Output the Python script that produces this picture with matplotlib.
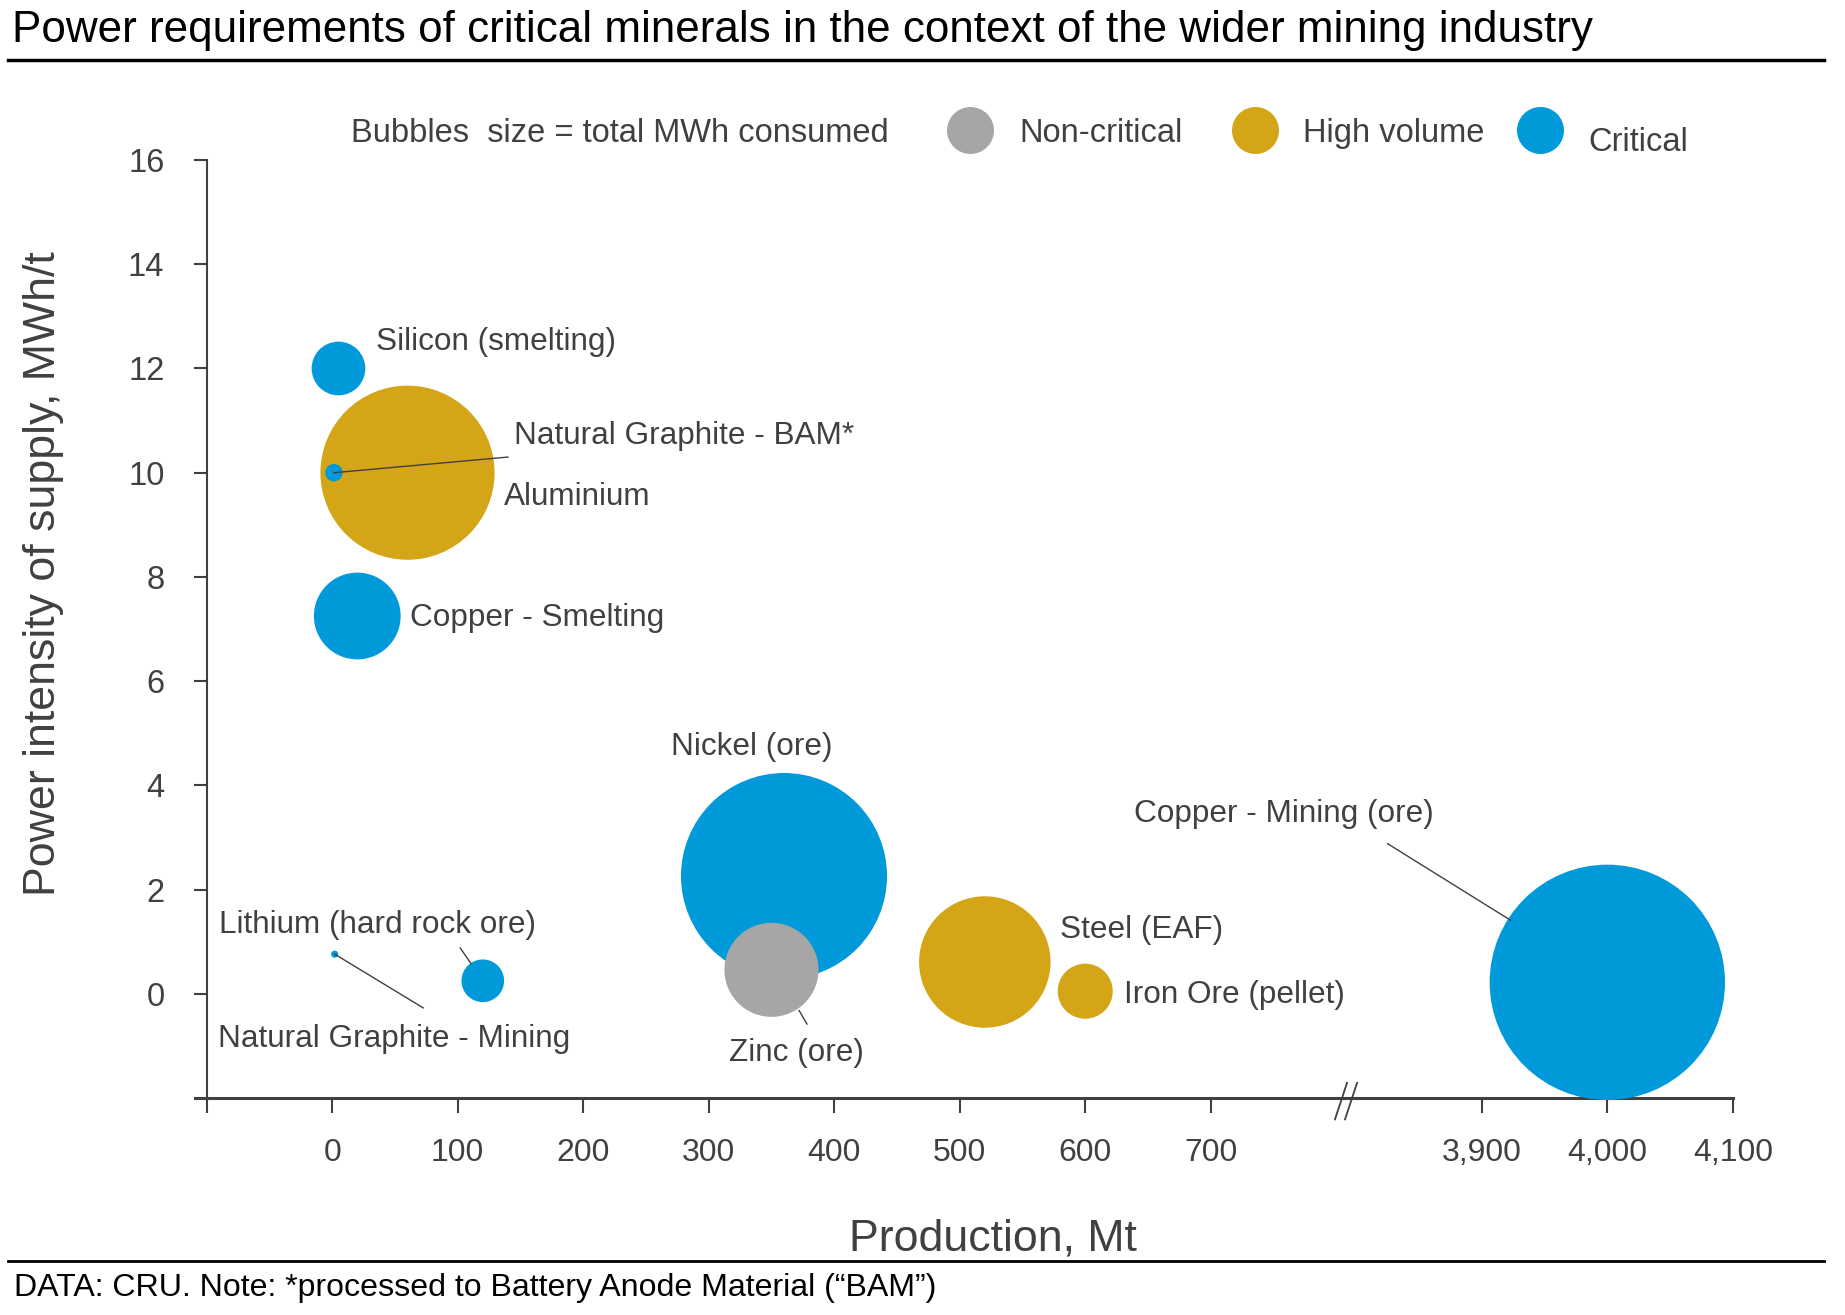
import numpy as np
import matplotlib.pyplot as plt
from matplotlib.lines import Line2D

plt.rcParams['font.family'] = ['Liberation Sans', 'DejaVu Sans']

# data (production in Mt, intensity in MWh/t, bubble = total TWh)
minerals = ['Silicon (smelting)', 'Aluminium', 'Natural Graphite - BAM*', 'Copper - Smelting',
            'Lithium (hard rock ore)', 'Natural Graphite - Mining', 'Nickel (ore)', 'Zinc (ore)',
            'Steel (EAF)', 'Iron Ore (pellet)', 'Copper - Mining (ore)']
production_mt = [5, 60, 1.4, 20, 120, 2, 360, 350, 520, 600, 4000]
intensity_mwh_t = [12.0, 10.0, 10.0, 7.25, 0.25, 0.76, 2.26, 0.46, 0.61, 0.05, 0.22]
total_twh = [57, 600, 6, 149, 36, 1, 840, 175, 342, 60, 1096]
group = ['Critical', 'High volume', 'Critical', 'Critical', 'Critical', 'Critical',
         'Critical', 'Non-critical', 'High volume', 'High volume', 'Critical']

x_ticks = [-100, 0, 100, 200, 300, 400, 500, 600, 700, 3900, 4000, 4100]
x_ticklabels = ['', '0', '100', '200', '300', '400', '500', '600', '700', '3,900', '4,000', '4,100']
y_ticks = [0, 2, 4, 6, 8, 10, 12, 14, 16]

colors = {'Non-critical': '#A6A6A6', 'High volume': '#D4A517', 'Critical': '#009ADA'}
grey = '#404040'

# label placement (axis x in Mt, y in MWh/t)
label_pos = {
    'Silicon (smelting)': (35, 12.50),
    'Aluminium': (137, 9.53),
    'Natural Graphite - BAM*': (145, 10.71),
    'Copper - Smelting': (62, 7.21),
    'Lithium (hard rock ore)': (-90, 1.32),
    'Natural Graphite - Mining': (-91, -0.86),
    'Nickel (ore)': (270, 4.74),
    'Zinc (ore)': (316, -1.14),
    'Steel (EAF)': (580, 1.22),
    'Iron Ore (pellet)': (631, -0.03),
    'Copper - Mining (ore)': (639, 3.46),
}
leaders = {
    'Natural Graphite - BAM*': ((1.4, 10.0), (140, 10.3)),
    'Natural Graphite - Mining': ((2.1, 0.76), (72.5, -0.27)),
    'Lithium (hard rock ore)': ((102, 0.88), (110.6, 0.58)),
    'Zinc (ore)': ((372, -0.32), (378.3, -0.58)),
    'Copper - Mining (ore)': ((3825, 2.88), (3923, 1.41)),
}

BREAK_SHIFT = 2984


def tx(v):
    v = np.asarray(v, dtype=float)
    return np.where(v > 2000, v - BREAK_SHIFT, v)


fig = plt.figure(figsize=(18.45, 13.15), dpi=100)
ax = fig.add_axes([0.1059, 0.165, 0.8333, 0.7133])

ax.scatter(tx(production_mt), intensity_mwh_t, s=np.array(total_twh) * 26.2,
           c=[colors[g] for g in group], linewidths=0, zorder=3, clip_on=False)

for name in minerals:
    lx, ly = label_pos[name]
    ax.text(float(tx(lx)), ly, name, fontsize=22.7, color=grey, ha='left', va='center')

for name, ((x0, y0), (x1, y1)) in leaders.items():
    ax.plot(tx([x0, x1]), [y0, y1], color=grey, lw=1.0, zorder=4)

ax.set_xlim(-109, 1116)
ax.set_ylim(-2, 16)
ax.spines['top'].set_visible(False)
ax.spines['right'].set_visible(False)
ax.spines['left'].set_position(('data', -100))
ax.spines['left'].set_color(grey)
ax.spines['left'].set_linewidth(1.5)
ax.spines['bottom'].set_color(grey)
ax.spines['bottom'].set_linewidth(2.2)

ax.set_xticks(tx(x_ticks))
ax.set_xticklabels(x_ticklabels)
ax.set_yticks(y_ticks)
ax.tick_params(axis='x', direction='out', length=11, width=1.5, pad=17.8,
               labelsize=23, color=grey, labelcolor=grey)
ax.tick_params(axis='y', direction='out', length=9.4, width=1.5, pad=21,
               labelsize=23.5, color=grey, labelcolor=grey)

# axis break marks
for cx in (803.8, 811.8):
    ax.plot([cx - 4.8, cx + 4.8], [-2.41, -1.71], color=grey, lw=1.3, clip_on=False, zorder=5)

fig.text(0.0238, 0.5635, 'Power intensity of supply, MWh/t', rotation=90,
         ha='center', va='center', fontsize=32.2, color=grey)
fig.text(0.538, 0.0492, 'Production, Mt', ha='center', va='baseline', fontsize=32.2, color=grey)

# title, footer and rules
fig.text(0.0064, 0.9683, 'Power requirements of critical minerals in the context of the wider mining industry',
         fontsize=31.7, va='baseline', color='black')
fig.add_artist(Line2D([0.0045, 0.9885], [0.9544, 0.9544], transform=fig.transFigure, color='black', lw=2.5))
fig.add_artist(Line2D([0.0045, 0.9885], [0.0414, 0.0414], transform=fig.transFigure, color='black', lw=2.0))
fig.text(0.0076, 0.01445, 'DATA: CRU. Note: *processed to Battery Anode Material (\u201cBAM\u201d)',
         fontsize=23.1, va='baseline', color='black')

# legend
lg = fig.add_axes([0, 0, 1, 1])
lg.set_xlim(0, 1)
lg.set_ylim(0, 1)
lg.axis('off')
lg.patch.set_alpha(0)
fig.text(0.190, 0.892, 'Bubbles  size = total MWh consumed', fontsize=23.5, color=grey, va='baseline')
legend_x = [0.526, 0.680, 0.8345]
legend_text_x = [0.5525, 0.7065, 0.861]
legend_text_y = [0.892, 0.892, 0.8855]
for (lab, col), cx, txx, ty in zip(colors.items(), legend_x, legend_text_x, legend_text_y):
    lg.scatter([cx], [0.9015], s=1145, color=col, linewidths=0)
    fig.text(txx, ty, lab, fontsize=23.5, color=grey, va='baseline')

fig.savefig('out.png', dpi=100)
